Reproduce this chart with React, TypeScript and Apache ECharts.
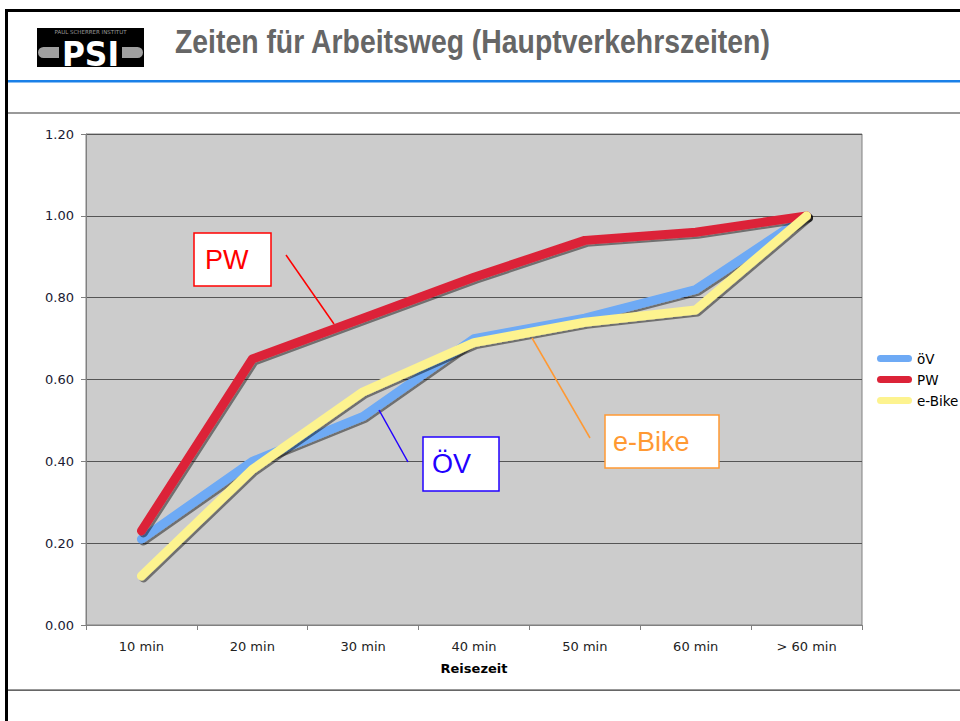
import React, { useEffect, useRef } from "react";
import * as echarts from "echarts";

const categories = ["10 min", "20 min", "30 min", "40 min", "50 min", "60 min", "> 60 min"];
const seriesNames = ["öV", "PW", "e-Bike"];
const oevValues = [0.21, 0.4, 0.51, 0.7, 0.75, 0.82, 1.0];
const pwValues = [0.23, 0.65, 0.75, 0.85, 0.94, 0.96, 1.0];
const ebikeValues = [0.12, 0.38, 0.57, 0.69, 0.74, 0.77, 1.0];
const seriesColors = ["#6eaaf5", "#dc2338", "#fdf38f"];
const titleText = "Zeiten für Arbeitsweg (Hauptverkehrszeiten)";
const axisName = "Reisezeit";

const lineSeries = (name: string, data: number[], color: string) => ({
  name,
  type: "line",
  data,
  showSymbol: false,
  symbol: "none",
  silent: true,
  itemStyle: { color },
  lineStyle: {
    width: 9,
    color,
    cap: "round",
    join: "round",
    shadowColor: "rgba(0,0,0,0.45)",
    shadowBlur: 1,
    shadowOffsetX: 2,
    shadowOffsetY: 2,
  },
  emphasis: { disabled: true },
});

export default function App() {
  const ref = useRef<HTMLDivElement>(null);
  useEffect(() => {
    document.body.style.margin = "0";
    const chart = echarts.init(ref.current!, null, { renderer: "svg" });
    const box = (x: number, y: number, w: number, h: number, color: string, label: string, tx: number) => [
      {
        type: "rect",
        z: 20,
        shape: { x, y, width: w, height: h },
        style: { fill: "#ffffff", stroke: color, lineWidth: 1.5 },
      },
      {
        type: "text",
        z: 21,
        x: tx,
        y: y + h / 2,
        style: {
          text: label,
          fill: color,
          font: '27px "Liberation Sans", Arial, sans-serif',
          verticalAlign: "middle",
          align: "left",
        },
      },
    ];
    const leader = (x1: number, y1: number, x2: number, y2: number, color: string) => ({
      type: "line",
      z: 20,
      shape: { x1, y1, x2, y2 },
      style: { stroke: color, lineWidth: 1.5 },
    });
    chart.setOption({
      animation: false,
      backgroundColor: "#ffffff",
      textStyle: { fontFamily: '"DejaVu Sans", Verdana, sans-serif' },
      grid: {
        left: 86,
        right: 98,
        top: 134,
        bottom: 96,
        show: true,
        backgroundColor: "#cccccc",
        borderColor: "#808080",
        borderWidth: 1,
      },
      legend: {
        orient: "vertical",
        left: 872,
        top: 346,
        itemWidth: 35,
        itemHeight: 7,
        itemGap: 6,
        icon: "path://M3.5,0 H31.5 A3.5,3.5 0 0 1 31.5,7 H3.5 A3.5,3.5 0 0 1 3.5,0 Z",
        textStyle: { fontSize: 13.5, color: "#000", lineHeight: 15 },
        selectedMode: false,
        data: seriesNames,
      },
      xAxis: {
        type: "category",
        data: categories,
        boundaryGap: true,
        axisLine: { show: true, lineStyle: { color: "#808080", width: 1 } },
        axisTick: { show: true, length: 5, lineStyle: { color: "#808080" } },
        axisLabel: { fontSize: 13, color: "#222", margin: 15 },
        name: axisName,
        nameLocation: "middle",
        nameGap: 37,
        nameTextStyle: { fontSize: 13, fontWeight: "bold", color: "#000" },
        splitLine: { show: false },
      },
      yAxis: {
        type: "value",
        min: 0,
        max: 1.2,
        interval: 0.2,
        axisLine: { show: true, lineStyle: { color: "#808080", width: 1 } },
        axisTick: { show: true, length: 5, lineStyle: { color: "#808080" } },
        axisLabel: {
          fontSize: 13,
          color: "#1a1a33",
          margin: 12,
          formatter: (v: number) => v.toFixed(2),
        },
        splitLine: { show: true, lineStyle: { color: "#555555", width: 1 } },
      },
      series: [
        lineSeries(seriesNames[0], oevValues, seriesColors[0]),
        lineSeries(seriesNames[1], pwValues, seriesColors[1]),
        lineSeries(seriesNames[2], ebikeValues, seriesColors[2]),
      ],
      graphic: [
        // frame
        { type: "rect", z: 30, shape: { x: 5, y: 9, width: 955, height: 3 }, style: { fill: "#000" } },
        { type: "rect", z: 30, shape: { x: 5, y: 9, width: 3, height: 712 }, style: { fill: "#000" } },
        { type: "rect", z: 30, shape: { x: 8, y: 80, width: 952, height: 2.5 }, style: { fill: "#1a80e8" } },
        { type: "rect", z: 30, shape: { x: 8, y: 112, width: 952, height: 2 }, style: { fill: "#999999" } },
        { type: "rect", z: 30, shape: { x: 8, y: 689.5, width: 952, height: 1.3 }, style: { fill: "#333333" } },
        // logo
        { type: "rect", z: 30, shape: { x: 37, y: 28, width: 107, height: 39 }, style: { fill: "#000" } },
        {
          type: "text",
          z: 31,
          x: 90.5,
          y: 32,
          style: {
            text: "PAUL SCHERRER INSTITUT",
            fill: "#9a9a9a",
            font: '5.5px "DejaVu Sans", sans-serif',
            align: "center",
            verticalAlign: "middle",
          },
        },
        { type: "rect", z: 31, shape: { x: 38, y: 47, width: 21, height: 11, r: [5.5, 0, 0, 5.5] }, style: { fill: "#a0a0a0" } },
        { type: "rect", z: 31, shape: { x: 122, y: 47, width: 21, height: 11, r: [0, 5.5, 5.5, 0] }, style: { fill: "#a0a0a0" } },
        {
          type: "text",
          z: 32,
          x: 90.5,
          y: 55,
          scaleX: 0.95,
          style: {
            text: "PSI",
            fill: "#ffffff",
            font: 'bold 33px "DejaVu Sans", sans-serif',
            align: "center",
            verticalAlign: "middle",
          },
        },
        // title
        {
          type: "text",
          z: 31,
          x: 175,
          y: 58,
          scaleX: 0.86,
          style: {
            text: titleText,
            fill: "#666666",
            font: 'bold 33px "Liberation Sans", Arial, sans-serif',
            align: "left",
            verticalAlign: "bottom",
          },
        },
        // annotations
        leader(286, 255, 334, 324, "#ff0000"),
        leader(379, 410, 408, 462, "#2200ff"),
        leader(532, 338, 590, 438, "#ff9933"),
        ...box(194, 233, 77, 53, "#ff0000", "PW", 205),
        ...box(423, 437, 76, 54, "#2200ff", "ÖV", 432),
        ...box(605, 415, 114, 53, "#ff9933", "e-Bike", 613),
      ],
    });
    return () => chart.dispose();
  }, []);
  return <div ref={ref} style={{ width: 960, height: 721 }} />;
}
